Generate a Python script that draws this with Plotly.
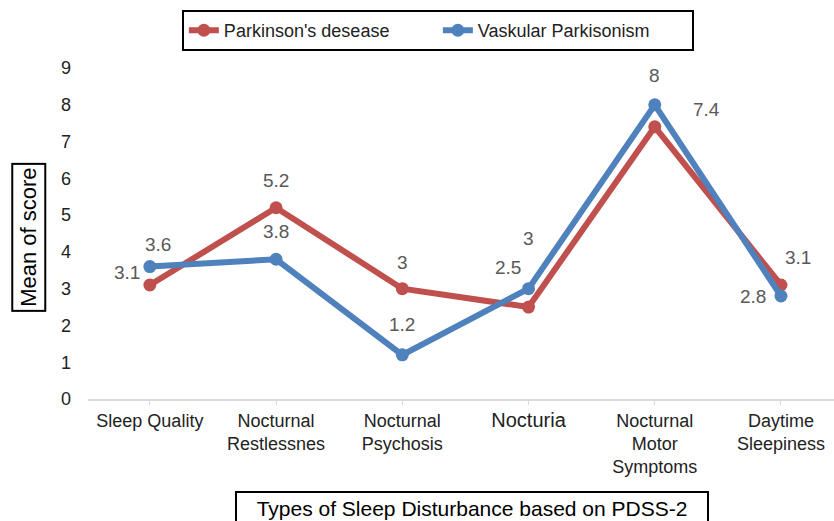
import plotly.graph_objects as go

categories = ["Sleep Quality", "Nocturnal<br>Restlessnes", "Nocturnal<br>Psychosis",
              "<span style=\"font-size:20px\">Nocturia</span>", "Nocturnal<br>Motor<br>Symptoms",
              "Daytime<br>Sleepiness"]
pd_values = [3.1, 5.2, 3, 2.5, 7.4, 3.1]
vp_values = [3.6, 3.8, 1.2, 3, 8, 2.8]
pd_name = "Parkinson's desease"
vp_name = "Vaskular Parkisonism"
y_ticks = list(range(0, 10))

RED = "#C0504D"
BLUE = "#4F81BD"
LABEL = "#595959"

x_idx = list(range(len(categories)))

fig = go.Figure()
fig.add_trace(go.Scatter(x=x_idx, y=pd_values, mode="lines+markers", name=pd_name,
                         line=dict(color=RED, width=6), marker=dict(size=13, color=RED),
                         cliponaxis=False))
fig.add_trace(go.Scatter(x=x_idx, y=vp_values, mode="lines+markers", name=vp_name,
                         line=dict(color=BLUE, width=6), marker=dict(size=13, color=BLUE),
                         cliponaxis=False))

# label offsets (pixels) for each data label
pd_off = [(-23, 12), (0, 27), (0, 26), (-21, 40), (52, 17), (17, 27)]
vp_off = [(8, 22), (0, 28), (0, 30), (0, 50), (0, 29), (-28, 0)]
for xs, ys, offs in ((x_idx, pd_values, pd_off), (x_idx, vp_values, vp_off)):
    for xi, yi, (dx, dy) in zip(xs, ys, offs):
        fig.add_annotation(x=xi, y=yi, text=str(yi), showarrow=False,
                           xshift=dx, yshift=dy, font=dict(size=19, color=LABEL))

# axis titles in boxes
fig.add_annotation(xref="paper", yref="paper", x=-0.079, y=0.487,
                   xanchor="center", yanchor="middle",
                   text="Mean of score", textangle=-90, showarrow=False,
                   font=dict(size=22, color="black"), bordercolor="black", borderwidth=2,
                   borderpad=3, bgcolor="white")
fig.add_annotation(xref="paper", yref="paper", x=0.515, y=-0.277, yanchor="top",
                   xanchor="center",
                   text="Types of Sleep Disturbance based on PDSS-2", showarrow=False,
                   font=dict(size=21, color="black"), bordercolor="black", borderwidth=2,
                   borderpad=4, bgcolor="white", width=462)

fig.update_layout(
    width=834, height=521,
    margin=dict(l=88, r=0, t=68, b=122),
    paper_bgcolor="white", plot_bgcolor="white",
    font=dict(family="Liberation Sans, Arial, sans-serif", color="#222222"),
    legend=dict(orientation="h", x=0.469, xanchor="center", y=1.175, yanchor="top",
                bordercolor="black", borderwidth=2, font=dict(size=18, color="#222222"),
                entrywidth=209, entrywidthmode="pixels", traceorder="normal"),
    showlegend=True,
)
fig.update_xaxes(tickmode="array", tickvals=x_idx, ticktext=categories,
                 range=[-0.49, 5.42], showgrid=False, zeroline=False,
                 showline=True, linecolor="#d9d9d9", linewidth=2,
                 ticks="outside", tickson="boundaries", ticklen=4, tickcolor="#d9d9d9",
                 tickfont=dict(size=18, color="#222222"))
fig.update_yaxes(range=[0, 9], tickvals=y_ticks, showgrid=False, zeroline=False,
                 showline=False, tickfont=dict(size=18, color="#222222"),
                 ticklabelstandoff=16)

fig.write_html("out.html", config={"displayModeBar": False},
               post_script="document.body.style.margin='0';document.body.style.overflow='hidden';")
